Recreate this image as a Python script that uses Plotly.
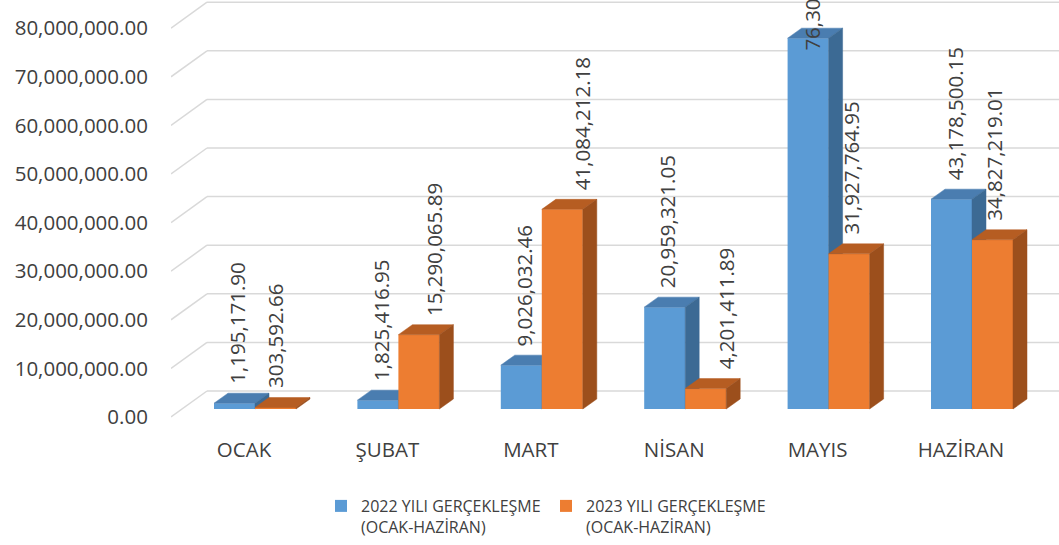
import plotly.graph_objects as go

# ---------------- data ----------------
months = ["OCAK", "ŞUBAT", "MART", "NİSAN", "MAYIS", "HAZİRAN"]
values_2022 = [1195171.90, 1825416.95, 9026032.46, 20959321.05, 76304812.35, 43178500.15]
values_2023 = [303592.66, 15290065.89, 41084212.18, 4201411.89, 31927764.95, 34827219.01]
series_names = ["2022 YILI GERÇEKLEŞME<br>(OCAK-HAZİRAN)",
                "2023 YILI GERÇEKLEŞME<br>(OCAK-HAZİRAN)"]
y_tick_values = [0, 10e6, 20e6, 30e6, 40e6, 50e6, 60e6, 70e6, 80e6]

# ---------------- layout constants (pixels) ----------------
W, H = 1059, 545
PLOT_L, PLOT_R, PLOT_T, PLOT_B = 171, 1059, 0, 423
CAT0_PX, CAT_STEP_PX = 255.0, 143.4
BASE_PX = 409.0                        # baseline of bar front faces
K = 48.6 / 10e6                        # pixels per unit
BAR_W_PX = 41.0
DEPTH_DX_PX, DEPTH_DY_PX = 14.0, 10.0  # bar depth
WALL_DX_PX, WALL_DY_PX = 25.0, 18.0    # back wall relative to bar front
FLOOR_DX_PX, FLOOR_DY_PX = -11.0, -8.0 # front floor edge relative to bar front
LABEL_GAP_PX = 17.0
LABEL_TOP_LIMIT_PX = 53.0
label_nudge_2022_px = [3, 3, 3, 2, 3, 3]
label_nudge_2023_px = [-1, 15, 20, 20, 2, 2]

FONT = "Open Sans"
TEXT_COLOR = "#404040"
GRID_COLOR = "#D9D9D9"
COLORS = {
    "2022": dict(front="#5B9BD5", top="#4A7DB0", side="#3C6A94"),
    "2023": dict(front="#ED7D31", top="#B65D22", side="#9C4F1C"),
}


def ux(px):
    return px / CAT_STEP_PX


def uy(px):
    return px / K


bw = ux(BAR_W_PX)
ddx, ddy = ux(DEPTH_DX_PX), uy(DEPTH_DY_PX)

x_range = [(PLOT_L - CAT0_PX) / CAT_STEP_PX, (PLOT_R - CAT0_PX) / CAT_STEP_PX]
bar_range = [(BASE_PX - PLOT_B) / K, (BASE_PX - PLOT_T) / K]
tick_base_px = BASE_PX - FLOOR_DY_PX
tick_range = [(tick_base_px - PLOT_B) / K, (tick_base_px - PLOT_T) / K]

fig = go.Figure()
cats = list(range(len(months)))


def add_series(values, name, colors, offset, yaxis):
    fig.add_trace(go.Bar(
        x=cats, y=values, width=bw, offset=offset, name=name,
        marker=dict(color=colors["front"], line=dict(width=0)),
        xaxis="x", yaxis=yaxis, hoverinfo="skip",
    ))
    top_x, top_y, side_x, side_y = [], [], [], []
    for i, v in zip(cats, values):
        x0 = i + offset
        x1 = x0 + bw
        top_x += [x0, x1, x1 + ddx, x0 + ddx, x0, None]
        top_y += [v, v, v + ddy, v + ddy, v, None]
        side_x += [x1, x1 + ddx, x1 + ddx, x1, x1, None]
        side_y += [0, ddy, v + ddy, v, 0, None]
    for xs, ys, c in ((top_x, top_y, colors["top"]), (side_x, side_y, colors["side"])):
        fig.add_trace(go.Scatter(
            x=xs, y=ys, mode="lines", fill="toself", fillcolor=c,
            line=dict(color=c, width=0.5), showlegend=False,
            hoverinfo="skip", xaxis="x", yaxis=yaxis,
        ))


# blue series on y2, orange on y3 (overlay drawn above -> correct 3D occlusion)
add_series(values_2022, series_names[0], COLORS["2022"], -bw, "y2")
add_series(values_2023, series_names[1], COLORS["2023"], 0.0, "y3")

# data labels
label_cap = uy(BASE_PX - LABEL_TOP_LIMIT_PX)
for values, offset, nudges in ((values_2022, -bw, label_nudge_2022_px),
                               (values_2023, 0.0, label_nudge_2023_px)):
    for i, v, n in zip(cats, values, nudges):
        fig.add_annotation(
            x=i + offset + bw / 2 + ux(n), y=min(v + uy(LABEL_GAP_PX), label_cap),
            xref="x", yref="y2", text=f"{v:,.2f}", textangle=-90,
            showarrow=False, xanchor="center", yanchor="bottom",
            font=dict(family=FONT, size=20.5, color=TEXT_COLOR),
        )

# 3D wall gridlines (in tick-axis coordinates: front floor edge = tick value)
shapes = []
wall_left_x = x_range[0] + ux(WALL_DX_PX - FLOOR_DX_PX)
front_left_x = x_range[0]
for t in y_tick_values:
    back_y = t + uy(WALL_DY_PX - FLOOR_DY_PX)
    shapes.append(dict(type="line", xref="x", yref="y", x0=wall_left_x, x1=x_range[1],
                       y0=back_y, y1=back_y, line=dict(color=GRID_COLOR, width=1.5),
                       layer="below"))
    shapes.append(dict(type="line", xref="x", yref="y", x0=front_left_x, x1=wall_left_x,
                       y0=t, y1=back_y, line=dict(color=GRID_COLOR, width=1.5),
                       layer="below"))

fig.update_layout(
    template="none",
    width=W, height=H,
    margin=dict(l=PLOT_L, r=W - PLOT_R, t=PLOT_T, b=H - PLOT_B, pad=0, autoexpand=False),
    paper_bgcolor="white", plot_bgcolor="white",
    barmode="overlay",
    shapes=shapes,
    font=dict(family=FONT, color=TEXT_COLOR),
    xaxis=dict(range=x_range, showgrid=False, zeroline=False, showline=False,
               automargin=False,
               tickmode="array", tickvals=[i + ux(FLOOR_DX_PX) for i in cats],
               ticktext=months, ticks="outside", ticklen=8,
               tickcolor="rgba(0,0,0,0)",
               tickfont=dict(family=FONT, size=20.5, color=TEXT_COLOR)),
    yaxis=dict(range=tick_range, showgrid=False, zeroline=False, showline=False,
               automargin=False,
               tickmode="array", tickvals=y_tick_values, tickformat=",.2f",
               ticks="outside", ticklen=18, tickcolor="rgba(0,0,0,0)",
               tickfont=dict(family=FONT, size=20.5, color=TEXT_COLOR)),
    yaxis2=dict(range=bar_range, overlaying="y", visible=False, showgrid=False,
                zeroline=False, automargin=False),
    yaxis3=dict(range=bar_range, overlaying="y", visible=False, showgrid=False,
                zeroline=False, automargin=False),
    legend=dict(orientation="h", xref="container", yref="container",
                x=321 / W, y=1 - 489 / H, xanchor="left", yanchor="top",
                font=dict(family=FONT, size=16, color=TEXT_COLOR),
                valign="top", entrywidth=180, bgcolor="rgba(0,0,0,0)",
                traceorder="normal"),
    showlegend=True,
)

fig.write_html("out.html",
               config={"displayModeBar": False},
               post_script="document.body.style.margin='0';document.body.style.overflow='hidden';")
